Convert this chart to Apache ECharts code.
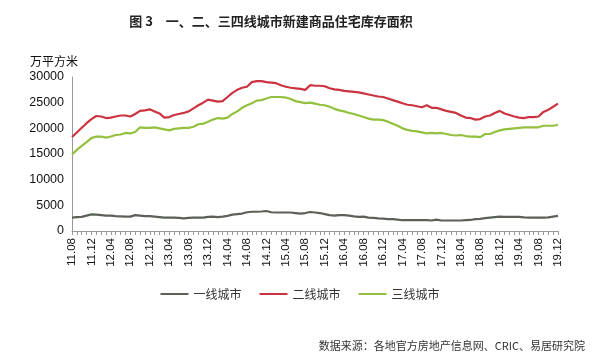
<!DOCTYPE html>
<html><head><meta charset="utf-8">
<script src="https://cdn.jsdelivr.net/npm/echarts@6/dist/echarts.min.js"></script>
<style>html,body{margin:0;padding:0;background:#fff}#c{width:600px;height:361px}</style>
</head><body><div id="c"></div>
<script>
// months 2011.08 .. 2019.12
const categories = [];
for (let y = 2011, m = 8; y < 2020; ) {
  categories.push(String(y % 100).padStart(2,'0') + '.' + String(m).padStart(2,'0'));
  m++; if (m > 12) { m = 1; y++; }
}
const tier1 = [2600,2700,2750,3000,3250,3200,3100,3000,3000,2900,2850,2800,2800,3100,3000,2900,2900,2800,2700,2600,
2600,2600,2550,2450,2550,2600,2600,2600,2750,2800,2700,2800,2950,3200,3300,3400,3650,3750,3750,3800,
3900,3650,3600,3600,3600,3600,3500,3400,3500,3700,3600,3500,3300,3100,3000,3100,3100,3000,2850,2750,
2800,2600,2550,2450,2400,2300,2300,2200,2100,2100,2100,2100,2100,2100,2050,2200,2050,2050,2050,2050,
2050,2100,2150,2300,2350,2500,2600,2700,2800,2750,2750,2750,2750,2650,2600,2600,2600,2600,2650,2800,2950];
const tier2 = [18300,19200,20100,21000,21800,22400,22300,22000,22100,22300,22500,22500,22300,22800,23400,23500,23700,23300,22900,22100,
22200,22600,22800,23000,23300,23900,24500,25000,25600,25400,25200,25300,26100,26900,27500,27900,28100,29000,29200,29200,
29000,28900,28800,28400,28100,27900,27800,27700,27500,28400,28300,28300,28200,27800,27600,27500,27300,27200,27100,27000,
26800,26600,26400,26200,26100,25800,25500,25200,24900,24600,24500,24300,24100,24500,24000,24000,23700,23400,23200,23000,
22500,22100,22000,21700,21800,22300,22500,23000,23400,22900,22600,22300,22100,22000,22200,22200,22300,23200,23600,24200,24800];
const tier3 = [14900,15800,16600,17300,18100,18400,18400,18200,18400,18700,18800,19100,19000,19300,20200,20100,20100,20200,20000,19800,
19600,19900,20000,20100,20100,20300,20800,20900,21300,21700,22000,21900,22100,22800,23300,24000,24500,24900,25400,25500,
25800,26100,26100,26100,26000,25700,25300,25100,24900,25000,24800,24600,24500,24200,23800,23500,23300,23000,22800,22500,
22200,21900,21700,21700,21600,21300,20900,20500,20000,19700,19500,19400,19200,19000,19100,19000,19100,18900,18700,18600,
18700,18500,18400,18400,18300,18900,18900,19300,19600,19800,19900,20000,20100,20200,20200,20200,20200,20500,20500,20500,20700];
const seriesNames = ['一线城市','二线城市','三线城市'];
const colors = ['#5b6158','#cc3340','#93c03e'];

const chart = echarts.init(document.getElementById('c'));
const mk = (name, data, color) => ({
  name, type: 'line', data, symbol: 'none', smooth: false,
  lineStyle: { width: 2.2, color }, itemStyle: { color }
});
chart.setOption({
  animation: false,
  title: {
    text: '图 3　一、二、三四线城市新建商品住宅库存面积',
    left: 266, top: 10, textAlign: 'center',
    textStyle: { fontFamily: 'Noto Sans CJK SC', fontSize: 13, fontWeight: 'bold', color: '#222' }
  },
  legend: {
    data: seriesNames, top: 283, left: 'center', itemWidth: 28, itemHeight: 2, itemGap: 18,
    icon: 'rect',
    textStyle: { fontFamily: 'Noto Sans CJK SC', fontSize: 12, color: '#333' }
  },
  graphic: [{
    type: 'text', right: 15, top: 340,
    style: { text: '数据来源：各地官方房地产信息网、CRIC、易居研究院', font: '11px "Noto Sans CJK SC"', fill: '#333' }
  }],
  grid: { left: 72, right: 42, top: 77, bottom: 130, containLabel: false },
  xAxis: {
    type: 'category', data: categories, boundaryGap: false,
    axisLine: { lineStyle: { color: '#999', width: 1 } },
    axisTick: { show: true, interval: 0, length: 4, lineStyle: { color: '#999', width: 1 } },
    axisLabel: { interval: 3, rotate: 90, fontSize: 11.5, color: '#111', fontFamily: 'Liberation Sans', margin: 7 }
  },
  yAxis: {
    type: 'value', min: 0, max: 30000, interval: 5000,
    name: '万平方米', nameLocation: 'end', nameGap: 10,
    nameTextStyle: { fontFamily: 'Noto Sans CJK SC', fontSize: 12, color: '#111', align: 'right', padding: [0, -6, 0, 0] },
    axisLine: { show: true, lineStyle: { color: '#999' } },
    axisTick: { show: false },
    splitLine: { show: false },
    axisLabel: { fontSize: 12.5, color: '#111', fontFamily: 'Liberation Sans', margin: 8, formatter: v => String(v) }
  },
  series: [mk(seriesNames[0], tier1, colors[0]), mk(seriesNames[1], tier2, colors[1]), mk(seriesNames[2], tier3, colors[2])]
});
</script></body></html>
